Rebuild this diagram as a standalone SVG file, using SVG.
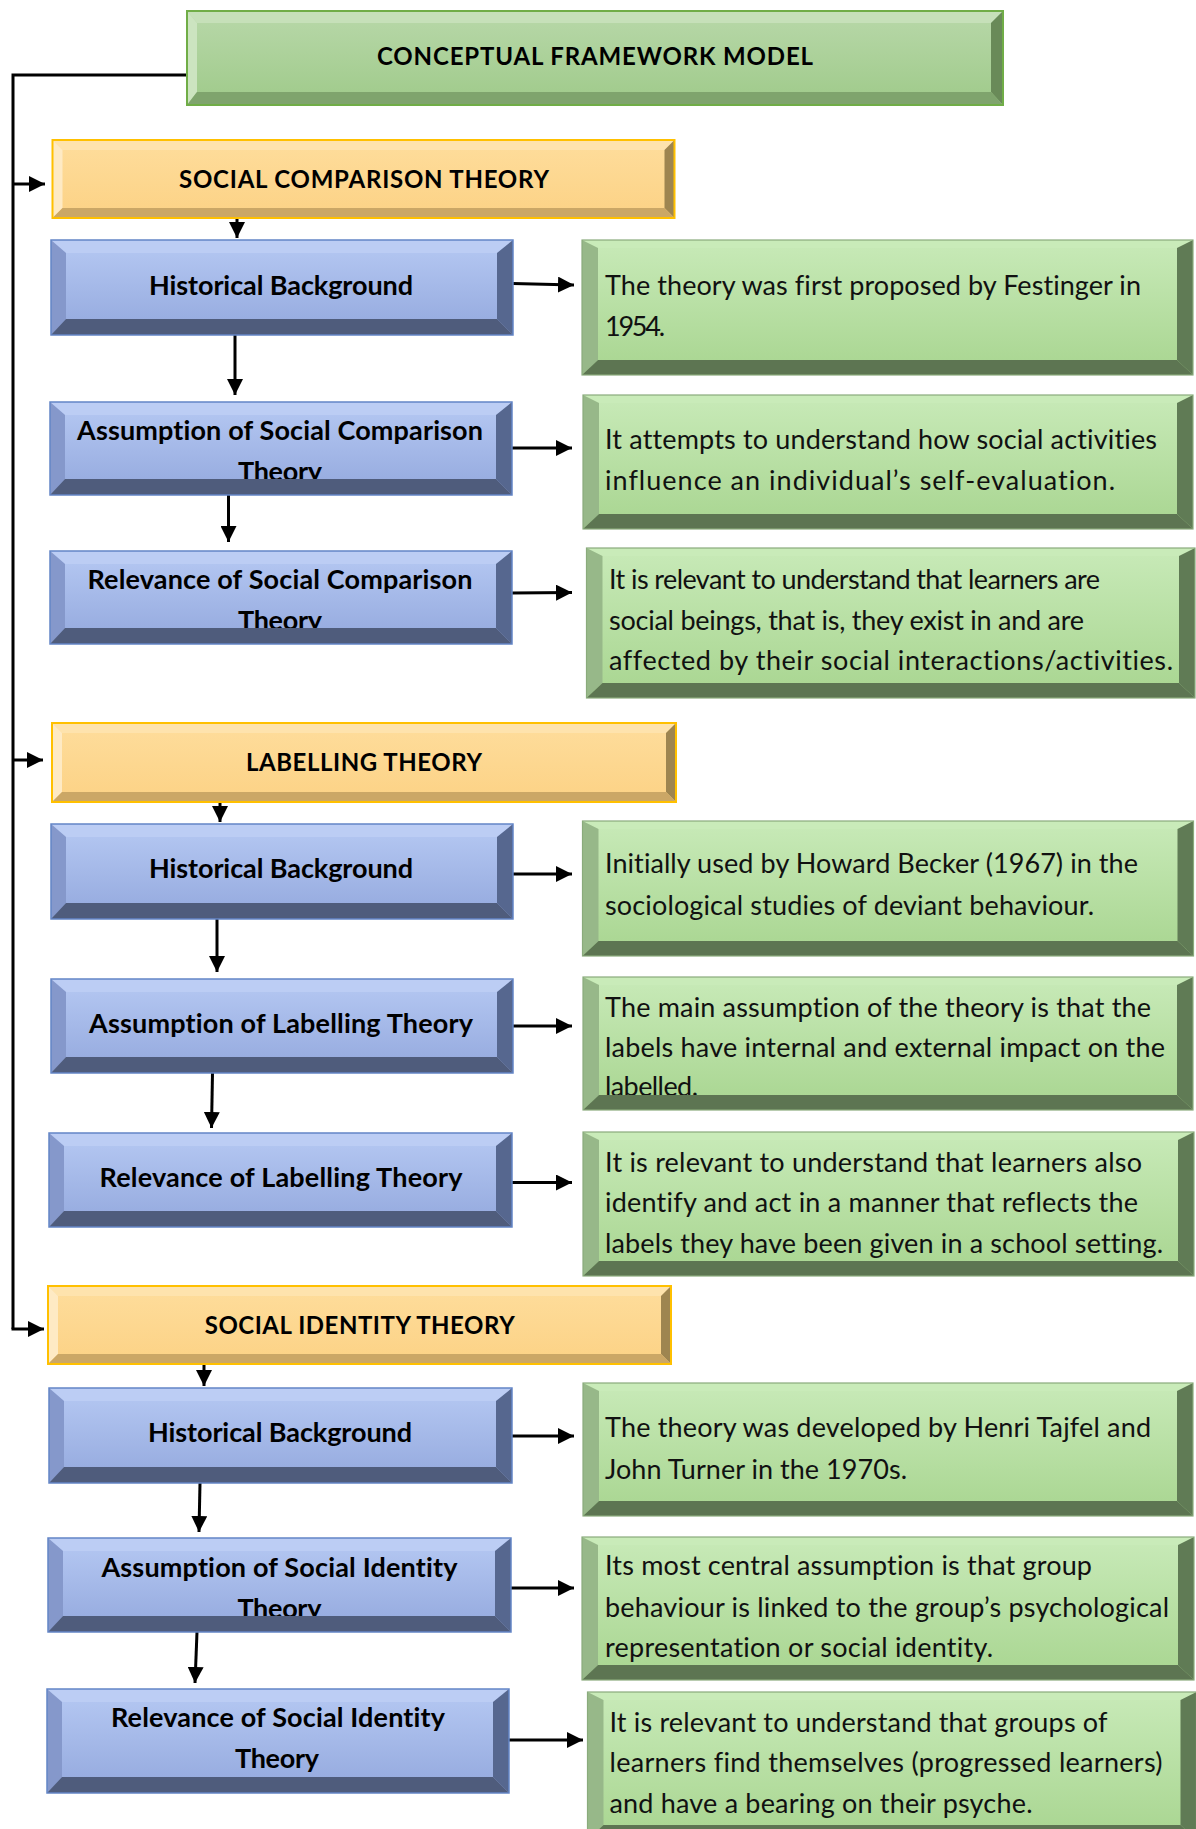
<svg xmlns="http://www.w3.org/2000/svg" width="1196" height="1829" viewBox="0 0 1196 1829">
<defs>
<linearGradient id="fb" x1="0" y1="0" x2="0" y2="1"><stop offset="0" stop-color="#b6c9f3"/><stop offset="1" stop-color="#93a8dd"/></linearGradient>
<linearGradient id="fy" x1="0" y1="0" x2="0" y2="1"><stop offset="0" stop-color="#fedd9c"/><stop offset="1" stop-color="#fcd285"/></linearGradient>
<linearGradient id="ft" x1="0" y1="0" x2="0" y2="1"><stop offset="0" stop-color="#b8d8a9"/><stop offset="1" stop-color="#9fca8a"/></linearGradient>
<linearGradient id="fg" x1="0" y1="0" x2="0" y2="1"><stop offset="0" stop-color="#c8eab8"/><stop offset="1" stop-color="#a8d590"/></linearGradient>
<marker id="ah" markerUnits="userSpaceOnUse" markerWidth="16" markerHeight="16" refX="16" refY="8" orient="auto"><path d="M0,0 L16,8 L0,16 z" fill="#000"/></marker>
</defs>
<style>
text{font-family:Lato,"Open Sans","Liberation Sans",sans-serif;fill:#000;font-variant-ligatures:none}
.hd{font-weight:700;font-size:24px;text-anchor:middle}
.bl{font-weight:700;font-size:27px;text-anchor:middle}
.gt{font-weight:400;font-size:27px;fill:#111}
.blue .f{fill:url(#fb)}.blue .t{fill:#bccdf4}.blue .l{fill:#8598cb}.blue .r{fill:#56678f}.blue .b{fill:#4f5c7c}.blue .o{fill:none;stroke:#6385c6;stroke-width:1.5}
.gold .f{fill:url(#fy)}.gold .t{fill:#fee3ad}.gold .l{fill:#feeac4}.gold .r{fill:#9e8550}.gold .b{fill:#cba766}.gold .o{fill:none;stroke:#ffc000;stroke-width:2}
.ttl .f{fill:url(#ft)}.ttl .t{fill:#c6e0b9}.ttl .l{fill:#cce4c0}.ttl .r{fill:#698a58}.ttl .b{fill:#7fa46d}.ttl .o{fill:none;stroke:#70ad47;stroke-width:2}
.grn .f{fill:url(#fg)}.grn .t{fill:#c9ebb9}.grn .l{fill:#97b889}.grn .r{fill:#607b55}.grn .b{fill:#5d7552}.grn .o{fill:none;stroke:#8aab7c;stroke-width:1.2}
.c{fill:none;stroke:#000;stroke-width:3}
.ca{fill:none;stroke:#000;stroke-width:3;marker-end:url(#ah)}
</style>
<rect width="1196" height="1829" fill="#fff"/>

<g id="connectors">
<polyline class="c" points="187,75 13,75 13,1329"/>
<line class="ca" x1="11.5" y1="1329" x2="44" y2="1329"/>
<line class="ca" x1="13" y1="184" x2="45" y2="184"/>
<line class="ca" x1="13" y1="760" x2="43" y2="760"/>
<line class="ca" x1="237" y1="218" x2="237" y2="238"/>
<line class="ca" x1="235" y1="335" x2="235" y2="395"/>
<line class="ca" x1="228.5" y1="495" x2="228.5" y2="542"/>
<line class="ca" x1="220" y1="802" x2="220" y2="822"/>
<line class="ca" x1="217" y1="919" x2="217" y2="972"/>
<line class="ca" x1="212.5" y1="1073" x2="211.5" y2="1128"/>
<line class="ca" x1="204" y1="1364" x2="204" y2="1386"/>
<line class="ca" x1="200" y1="1483" x2="199" y2="1532"/>
<line class="ca" x1="197" y1="1632" x2="195" y2="1683"/>
<line class="ca" x1="513" y1="283.5" x2="574" y2="285"/>
<line class="ca" x1="512" y1="448" x2="572" y2="448"/>
<line class="ca" x1="512" y1="593" x2="572" y2="592.5"/>
<line class="ca" x1="513" y1="874" x2="572" y2="874"/>
<line class="ca" x1="513" y1="1026" x2="572" y2="1026"/>
<line class="ca" x1="512" y1="1182.5" x2="572" y2="1182.5"/>
<line class="ca" x1="512" y1="1436" x2="574" y2="1436"/>
<line class="ca" x1="511" y1="1588" x2="574" y2="1588"/>
<line class="ca" x1="509" y1="1740" x2="583" y2="1740"/>
</g>

<g id="title" class="ttl">
<rect class="f" x="187" y="11" width="816" height="94"/>
<text class="hd" x="595" y="65" textLength="436">CONCEPTUAL FRAMEWORK MODEL</text>
<polygon class="t" points="187,11 1003,11 991,23 197,23"/>
<polygon class="l" points="187,11 197,23 197,92 187,105"/>
<polygon class="r" points="1003,11 1003,105 991,92 991,23"/>
<polygon class="b" points="187,105 197,92 991,92 1003,105"/>
<rect class="o" x="187" y="11" width="816" height="94"/>
</g>

<g id="sct" class="gold">
<rect class="f" x="52.5" y="140" width="622" height="78"/>
<text class="hd" x="364" y="188" textLength="370">SOCIAL COMPARISON THEORY</text>
<polygon class="t" points="52.5,140 674.5,140 664.5,150 62.5,150"/>
<polygon class="l" points="52.5,140 62.5,150 62.5,208 52.5,218"/>
<polygon class="r" points="674.5,140 674.5,218 664.5,208 664.5,150"/>
<polygon class="b" points="52.5,218 62.5,208 664.5,208 674.5,218"/>
<rect class="o" x="52.5" y="140" width="622" height="78"/>
</g>

<g id="sct-hb" class="blue">
<rect class="f" x="51" y="240" width="462" height="95"/>
<text class="bl" x="281" y="295" textLength="264">Historical Background</text>
<polygon class="t" points="51,240 513,240 497,253 66,253"/>
<polygon class="l" points="51,240 66,253 66,319 51,335"/>
<polygon class="r" points="513,240 513,335 497,319 497,253"/>
<polygon class="b" points="51,335 66,319 497,319 513,335"/>
<rect class="o" x="51" y="240" width="462" height="95"/>
</g>

<g id="sct-as" class="blue">
<rect class="f" x="50" y="402" width="462" height="93"/>
<text class="bl" x="280" y="440" textLength="406">Assumption of Social Comparison</text>
<text class="bl" x="280" y="481" textLength="84">Theory</text>
<polygon class="t" points="50,402 512,402 496,415 65,415"/>
<polygon class="l" points="50,402 65,415 65,479 50,495"/>
<polygon class="r" points="512,402 512,495 496,479 496,415"/>
<polygon class="b" points="50,495 65,479 496,479 512,495"/>
<rect class="o" x="50" y="402" width="462" height="93"/>
</g>

<g id="sct-rel" class="blue">
<rect class="f" x="50" y="551" width="462" height="93"/>
<text class="bl" x="280" y="589" textLength="385">Relevance of Social Comparison</text>
<text class="bl" x="280" y="630" textLength="84">Theory</text>
<polygon class="t" points="50,551 512,551 496,564 65,564"/>
<polygon class="l" points="50,551 65,564 65,628 50,644"/>
<polygon class="r" points="512,551 512,644 496,628 496,564"/>
<polygon class="b" points="50,644 65,628 496,628 512,644"/>
<rect class="o" x="50" y="551" width="462" height="93"/>
</g>

<g id="sct-hb-d" class="grn">
<rect class="f" x="582" y="240" width="611" height="135"/>
<text class="gt" x="605" y="295" textLength="536">The theory was first proposed by Festinger in</text>
<text class="gt" x="605" y="336" textLength="60">1954.</text>
<polygon class="t" points="582,240 1193,240 1177,248 598,248"/>
<polygon class="l" points="582,240 598,248 598,360 582,375"/>
<polygon class="r" points="1193,240 1193,375 1177,360 1177,248"/>
<polygon class="b" points="582,375 598,360 1177,360 1193,375"/>
<rect class="o" x="582" y="240" width="611" height="135"/>
</g>

<g id="sct-as-d" class="grn">
<rect class="f" x="583" y="395" width="610" height="134"/>
<text class="gt" x="605" y="449" textLength="552">It attempts to understand how social activities</text>
<text class="gt" x="605" y="490" textLength="510">influence an individual’s self-evaluation.</text>
<polygon class="t" points="583,395 1193,395 1177,403 599,403"/>
<polygon class="l" points="583,395 599,403 599,514 583,529"/>
<polygon class="r" points="1193,395 1193,529 1177,514 1177,403"/>
<polygon class="b" points="583,529 599,514 1177,514 1193,529"/>
<rect class="o" x="583" y="395" width="610" height="134"/>
</g>

<g id="sct-rel-d" class="grn">
<rect class="f" x="586.5" y="548" width="608.5" height="150"/>
<text class="gt" x="609" y="589" textLength="491">It is relevant to understand that learners are</text>
<text class="gt" x="609" y="630" textLength="475">social beings, that is, they exist in and are</text>
<text class="gt" x="609" y="670" textLength="564">affected by their social interactions/activities.</text>
<polygon class="t" points="586.5,548 1195,548 1179,556 602.5,556"/>
<polygon class="l" points="586.5,548 602.5,556 602.5,683 586.5,698"/>
<polygon class="r" points="1195,548 1195,698 1179,683 1179,556"/>
<polygon class="b" points="586.5,698 602.5,683 1179,683 1195,698"/>
<rect class="o" x="586.5" y="548" width="608.5" height="150"/>
</g>

<g id="lt" class="gold">
<rect class="f" x="52" y="723" width="624" height="79"/>
<text class="hd" x="364" y="771" textLength="236">LABELLING THEORY</text>
<polygon class="t" points="52,723 676,723 666,733 62,733"/>
<polygon class="l" points="52,723 62,733 62,792 52,802"/>
<polygon class="r" points="676,723 676,802 666,792 666,733"/>
<polygon class="b" points="52,802 62,792 666,792 676,802"/>
<rect class="o" x="52" y="723" width="624" height="79"/>
</g>

<g id="lt-hb" class="blue">
<rect class="f" x="51" y="824" width="462" height="95"/>
<text class="bl" x="281" y="878" textLength="264">Historical Background</text>
<polygon class="t" points="51,824 513,824 497,837 66,837"/>
<polygon class="l" points="51,824 66,837 66,903 51,919"/>
<polygon class="r" points="513,824 513,919 497,903 497,837"/>
<polygon class="b" points="51,919 66,903 497,903 513,919"/>
<rect class="o" x="51" y="824" width="462" height="95"/>
</g>

<g id="lt-as" class="blue">
<rect class="f" x="51" y="979" width="462" height="94"/>
<text class="bl" x="281" y="1033" textLength="384">Assumption of Labelling Theory</text>
<polygon class="t" points="51,979 513,979 497,992 66,992"/>
<polygon class="l" points="51,979 66,992 66,1057 51,1073"/>
<polygon class="r" points="513,979 513,1073 497,1057 497,992"/>
<polygon class="b" points="51,1073 66,1057 497,1057 513,1073"/>
<rect class="o" x="51" y="979" width="462" height="94"/>
</g>

<g id="lt-rel" class="blue">
<rect class="f" x="49" y="1133" width="463" height="94"/>
<text class="bl" x="281" y="1187" textLength="363">Relevance of Labelling Theory</text>
<polygon class="t" points="49,1133 512,1133 496,1146 64,1146"/>
<polygon class="l" points="49,1133 64,1146 64,1211 49,1227"/>
<polygon class="r" points="512,1133 512,1227 496,1211 496,1146"/>
<polygon class="b" points="49,1227 64,1211 496,1211 512,1227"/>
<rect class="o" x="49" y="1133" width="463" height="94"/>
</g>

<g id="lt-hb-d" class="grn">
<rect class="f" x="582.5" y="821" width="611" height="135"/>
<text class="gt" x="605" y="873" textLength="533">Initially used by Howard Becker (1967) in the</text>
<text class="gt" x="605" y="915" textLength="489">sociological studies of deviant behaviour.</text>
<polygon class="t" points="582.5,821 1193.5,821 1177.5,829 598.5,829"/>
<polygon class="l" points="582.5,821 598.5,829 598.5,941 582.5,956"/>
<polygon class="r" points="1193.5,821 1193.5,956 1177.5,941 1177.5,829"/>
<polygon class="b" points="582.5,956 598.5,941 1177.5,941 1193.5,956"/>
<rect class="o" x="582.5" y="821" width="611" height="135"/>
</g>

<g id="lt-as-d" class="grn">
<rect class="f" x="583" y="977" width="610" height="133"/>
<text class="gt" x="605" y="1017" textLength="546">The main assumption of the theory is that the</text>
<text class="gt" x="605" y="1057" textLength="560">labels have internal and external impact on the</text>
<text class="gt" x="605" y="1096" textLength="93">labelled.</text>
<polygon class="t" points="583,977 1193,977 1177,985 599,985"/>
<polygon class="l" points="583,977 599,985 599,1095 583,1110"/>
<polygon class="r" points="1193,977 1193,1110 1177,1095 1177,985"/>
<polygon class="b" points="583,1110 599,1095 1177,1095 1193,1110"/>
<rect class="o" x="583" y="977" width="610" height="133"/>
</g>

<g id="lt-rel-d" class="grn">
<rect class="f" x="583" y="1132" width="611" height="144"/>
<text class="gt" x="605" y="1172" textLength="537">It is relevant to understand that learners also</text>
<text class="gt" x="605" y="1212" textLength="533">identify and act in a manner that reflects the</text>
<text class="gt" x="605" y="1253" textLength="558">labels they have been given in a school setting.</text>
<polygon class="t" points="583,1132 1194,1132 1178,1140 599,1140"/>
<polygon class="l" points="583,1132 599,1140 599,1261 583,1276"/>
<polygon class="r" points="1194,1132 1194,1276 1178,1261 1178,1140"/>
<polygon class="b" points="583,1276 599,1261 1178,1261 1194,1276"/>
<rect class="o" x="583" y="1132" width="611" height="144"/>
</g>

<g id="sit" class="gold">
<rect class="f" x="48" y="1286" width="623" height="78"/>
<text class="hd" x="359.7" y="1333.5" textLength="310">SOCIAL IDENTITY THEORY</text>
<polygon class="t" points="48,1286 671,1286 661,1296 58,1296"/>
<polygon class="l" points="48,1286 58,1296 58,1354 48,1364"/>
<polygon class="r" points="671,1286 671,1364 661,1354 661,1296"/>
<polygon class="b" points="48,1364 58,1354 661,1354 671,1364"/>
<rect class="o" x="48" y="1286" width="623" height="78"/>
</g>

<g id="sit-hb" class="blue">
<rect class="f" x="49" y="1388" width="463" height="95"/>
<text class="bl" x="280" y="1442" textLength="264">Historical Background</text>
<polygon class="t" points="49,1388 512,1388 496,1401 64,1401"/>
<polygon class="l" points="49,1388 64,1401 64,1467 49,1483"/>
<polygon class="r" points="512,1388 512,1483 496,1467 496,1401"/>
<polygon class="b" points="49,1483 64,1467 496,1467 512,1483"/>
<rect class="o" x="49" y="1388" width="463" height="95"/>
</g>

<g id="sit-as" class="blue">
<rect class="f" x="48" y="1538" width="463" height="94"/>
<text class="bl" x="279.4" y="1577" textLength="356">Assumption of Social Identity</text>
<text class="bl" x="279.4" y="1618" textLength="84">Theory</text>
<polygon class="t" points="48,1538 511,1538 495,1551 63,1551"/>
<polygon class="l" points="48,1538 63,1551 63,1616 48,1632"/>
<polygon class="r" points="511,1538 511,1632 495,1616 495,1551"/>
<polygon class="b" points="48,1632 63,1616 495,1616 511,1632"/>
<rect class="o" x="48" y="1538" width="463" height="94"/>
</g>

<g id="sit-rel" class="blue">
<rect class="f" x="47" y="1689" width="462" height="104"/>
<text class="bl" x="278" y="1727" textLength="334">Relevance of Social Identity</text>
<text class="bl" x="277" y="1768" textLength="84">Theory</text>
<polygon class="t" points="47,1689 509,1689 493,1702 62,1702"/>
<polygon class="l" points="47,1689 62,1702 62,1777 47,1793"/>
<polygon class="r" points="509,1689 509,1793 493,1777 493,1702"/>
<polygon class="b" points="47,1793 62,1777 493,1777 509,1793"/>
<rect class="o" x="47" y="1689" width="462" height="104"/>
</g>

<g id="sit-hb-d" class="grn">
<rect class="f" x="583" y="1383" width="610" height="133"/>
<text class="gt" x="605" y="1437" textLength="546">The theory was developed by Henri Tajfel and</text>
<text class="gt" x="605" y="1479" textLength="302">John Turner in the 1970s.</text>
<polygon class="t" points="583,1383 1193,1383 1177,1391 599,1391"/>
<polygon class="l" points="583,1383 599,1391 599,1501 583,1516"/>
<polygon class="r" points="1193,1383 1193,1516 1177,1501 1177,1391"/>
<polygon class="b" points="583,1516 599,1501 1177,1501 1193,1516"/>
<rect class="o" x="583" y="1383" width="610" height="133"/>
</g>

<g id="sit-as-d" class="grn">
<rect class="f" x="582" y="1537" width="612" height="143"/>
<text class="gt" x="605" y="1575" textLength="487">Its most central assumption is that group</text>
<text class="gt" x="605" y="1617" textLength="564">behaviour is linked to the group’s psychological</text>
<text class="gt" x="605" y="1657" textLength="388">representation or social identity.</text>
<polygon class="t" points="582,1537 1194,1537 1178,1545 598,1545"/>
<polygon class="l" points="582,1537 598,1545 598,1665 582,1680"/>
<polygon class="r" points="1194,1537 1194,1680 1178,1665 1178,1545"/>
<polygon class="b" points="582,1680 598,1665 1178,1665 1194,1680"/>
<rect class="o" x="582" y="1537" width="612" height="143"/>
</g>

<g id="sit-rel-d" class="grn">
<rect class="f" x="587.5" y="1692" width="609" height="148"/>
<text class="gt" x="609.5" y="1732" textLength="498">It is relevant to understand that groups of</text>
<text class="gt" x="609.5" y="1772" textLength="553">learners find themselves (progressed learners)</text>
<text class="gt" x="609.5" y="1813" textLength="423">and have a bearing on their psyche.</text>
<polygon class="t" points="587.5,1692 1196.5,1692 1180.5,1700 603.5,1700"/>
<polygon class="l" points="587.5,1692 603.5,1700 603.5,1825 587.5,1840"/>
<polygon class="r" points="1196.5,1692 1196.5,1840 1180.5,1825 1180.5,1700"/>
<polygon class="b" points="587.5,1840 603.5,1825 1180.5,1825 1196.5,1840"/>
<rect class="o" x="587.5" y="1692" width="609" height="148"/>
</g>
</svg>
